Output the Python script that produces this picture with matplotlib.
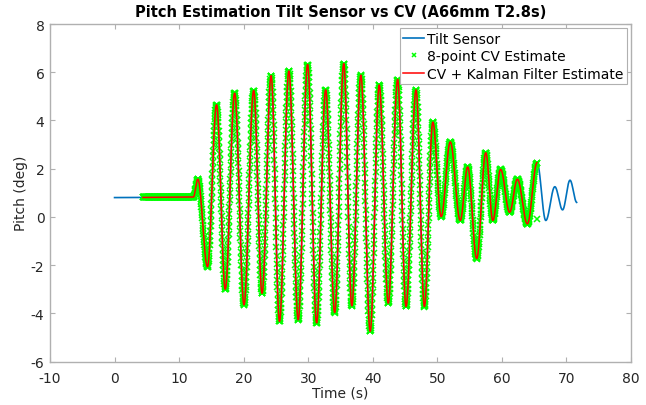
import numpy as np
import matplotlib
matplotlib.use("Agg")
import matplotlib.pyplot as plt

plt.rcParams["axes.unicode_minus"] = False

# Extrema of the pitch signal (time s, pitch deg)
peak_times = [0.0, 12.2, 12.9, 14.4, 15.8, 17.15, 18.6, 20.05, 21.55, 22.85, 24.25,
              25.55, 27.0, 28.45, 29.9, 31.3, 32.7, 34.1, 35.5, 36.75, 38.15,
              39.6, 41.0, 42.4, 43.85, 45.15, 46.7, 48.0, 49.3, 50.6, 52.0,
              53.55, 54.7, 56.1, 57.5, 58.6, 59.8, 61.2, 62.4, 63.95, 65.45,
              66.8, 68.2, 69.4, 70.55, 71.6]
peak_values = [0.8, 0.82, 1.56, -2.07, 4.65, -3.0, 5.13, -3.65, 5.24, -3.17, 5.86,
               -4.34, 6.05, -4.27, 6.32, -4.4, 5.27, -3.97, 6.36, -3.69, 5.88,
               -4.75, 5.47, -3.58, 5.7, -3.72, 5.27, -3.72, 3.93, 0.01, 3.11,
               -0.15, 2.07, -1.73, 2.66, -0.15, 1.97, 0.19, 1.56, -0.29, 2.25,
               -0.15, 1.25, 0.29, 1.52, 0.6]

sensor_range = [0.0, 71.6]
cv_range = [4.4, 65.45]
cv_rate = 30.0            # CV frames per second
cv_last_point = (65.5, -0.1)

title = "Pitch Estimation Tilt Sensor vs CV (A66mm T2.8s)"
xlabel = "Time (s)"
ylabel = "Pitch (deg)"
legend_labels = ["Tilt Sensor", "8-point CV Estimate", "CV + Kalman Filter Estimate"]
xticks = list(range(-10, 81, 10))
yticks = list(range(-6, 9, 2))


def signal(t):
    """Half-cosine shape between consecutive read extrema."""
    pt = np.asarray(peak_times)
    pv = np.asarray(peak_values)
    i = np.clip(np.searchsorted(pt, t, side="right") - 1, 0, len(pt) - 2)
    t0, t1 = pt[i], pt[i + 1]
    v0, v1 = pv[i], pv[i + 1]
    s = np.clip((t - t0) / (t1 - t0), 0, 1)
    return v0 + (v1 - v0) * (1 - np.cos(np.pi * s)) / 2


t_sensor = np.arange(sensor_range[0], sensor_range[1], 0.02)
t_cv = np.arange(cv_range[0], cv_range[1], 1.0 / cv_rate)

fig = plt.figure(figsize=(6.46, 4.06), dpi=100)
ax = fig.add_axes([50 / 646, 1 - 362.5 / 406, 581 / 646, 337.5 / 406])

blue = (0, 0.447, 0.741)
ax.plot(t_sensor, signal(t_sensor), color=blue, lw=1.2, label=legend_labels[0], zorder=2)
ax.plot(np.append(t_cv, cv_last_point[0]), np.append(signal(t_cv), cv_last_point[1]),
        linestyle="none", marker="x", color=(0, 1, 0), ms=3.8, mew=1.1,
        label=legend_labels[1], zorder=3)
ax.plot(t_cv, signal(t_cv), color=(1, 0, 0), lw=1.1, label=legend_labels[2], zorder=4)

ax.set_xlim(-10, 80)
ax.set_ylim(-6, 8)
ax.set_xticks(xticks)
ax.set_yticks(yticks)
ax.tick_params(direction="in", length=3.5, width=0.8, colors="#b0b0b0",
               labelcolor="#262626", labelsize=10, top=True, right=True)
ax.tick_params(axis="x", pad=7)
ax.tick_params(axis="y", pad=4)
for sp in ax.spines.values():
    sp.set_color("#b0b0b0")
    sp.set_linewidth(1.0)

ax.set_title(title, fontsize=10.5, fontweight="bold", color="black", pad=6)
ax.set_xlabel(xlabel, fontsize=10, color="#262626", labelpad=0)
ax.set_ylabel(ylabel, fontsize=10, color="#262626", labelpad=2)

leg = ax.legend(loc="upper right", fontsize=10, frameon=True, fancybox=False,
                handlelength=1.5, handletextpad=0.2, borderpad=0.25,
                labelspacing=0.25, borderaxespad=0.3, markerscale=0.8)
leg.get_frame().set_edgecolor("#b0b0b0")
leg.get_frame().set_linewidth(0.8)
leg.get_frame().set_alpha(1)

fig.savefig("out.png", dpi=100)
